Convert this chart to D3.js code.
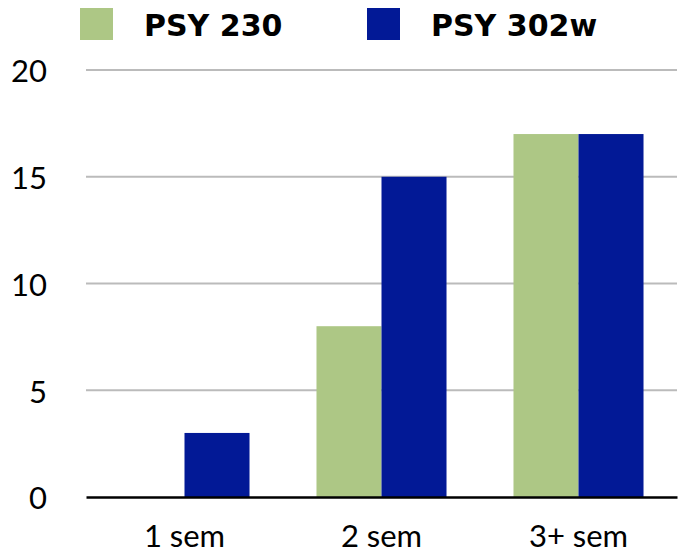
<!DOCTYPE html>
<html>
<head>
<meta charset="utf-8">
<script src="https://cdn.jsdelivr.net/npm/d3@7"></script>
<style>
  html, body { margin: 0; padding: 0; background: #fff; }
  svg { display: block; }
</style>
</head>
<body>
<svg id="chart" width="684" height="557"></svg>
<script>
const categories = ["1 sem", "2 sem", "3+ sem"];
const seriesNames = ["PSY 230", "PSY 302w"];
const psy230 = [0, 8, 17];
const psy302w = [3, 15, 17];
const yTicks = [0, 5, 10, 15, 20];
const colors = ["#adc785", "#021996"];

const svg = d3.select("#chart");
const margin = { left: 86, right: 7, top: 70, bottom: 60 };
const W = 684, H = 557;
const x0 = 86, x1 = 677, yTop = 70, yBottom = 497;

const x = d3.scaleBand().domain(categories).range([x0, x1]).paddingInner(0.34).paddingOuter(0.17);
const xs = d3.scaleBand().domain(seriesNames).range([0, x.bandwidth()]);
const y = d3.scaleLinear().domain([0, 20]).range([yBottom, yTop]);

const uiFont = "Lato, 'Open Sans', sans-serif";

// gridlines
svg.append("g")
  .selectAll("line")
  .data(yTicks.filter(d => d > 0))
  .join("line")
  .attr("x1", x0).attr("x2", x1)
  .attr("y1", d => y(d)).attr("y2", d => y(d))
  .attr("stroke", "#bbbbbb").attr("stroke-width", 2);

// y axis labels
const yAxis = d3.axisLeft(y).tickValues(yTicks).tickSize(0).tickPadding(0);
const gy = svg.append("g").attr("transform", "translate(47,2)").call(yAxis);
gy.select(".domain").remove();
gy.selectAll("text").attr("font-family", uiFont).attr("font-size", 31).attr("fill", "#000");

// bars
const data = categories.map((c, i) => ({ cat: c, vals: [psy230[i], psy302w[i]] }));
svg.append("g")
  .selectAll("g")
  .data(data)
  .join("g")
  .attr("transform", d => `translate(${x(d.cat)},0)`)
  .selectAll("rect")
  .data(d => d.vals.map((v, j) => ({ name: seriesNames[j], v, j })))
  .join("rect")
  .attr("x", d => xs(d.name))
  .attr("width", xs.bandwidth())
  .attr("y", d => y(d.v))
  .attr("height", d => y(0) - y(d.v))
  .attr("fill", d => colors[d.j]);

// x axis
const xAxis = d3.axisBottom(x).tickSize(0).tickPadding(28);
const gx = svg.append("g").attr("transform", `translate(0,${yBottom})`).call(xAxis);
gx.select(".domain").attr("stroke", "#000").attr("stroke-width", 2.5);
gx.selectAll("text").attr("font-family", uiFont).attr("font-size", 31).attr("fill", "#000");

// legend
const legendX = [80, 367];
const lg = svg.append("g").selectAll("g").data(seriesNames).join("g")
  .attr("transform", (d, i) => `translate(${legendX[i]},8)`);
lg.append("rect").attr("width", 33).attr("height", 32).attr("fill", (d, i) => colors[i]);
lg.append("text")
  .attr("x", 64).attr("y", 28)
  .attr("font-family", "'DejaVu Sans', sans-serif")
  .attr("font-weight", "bold")
  .attr("font-size", 30)
  .attr("fill", "#000")
  .text(d => d);
</script>
</body>
</html>
